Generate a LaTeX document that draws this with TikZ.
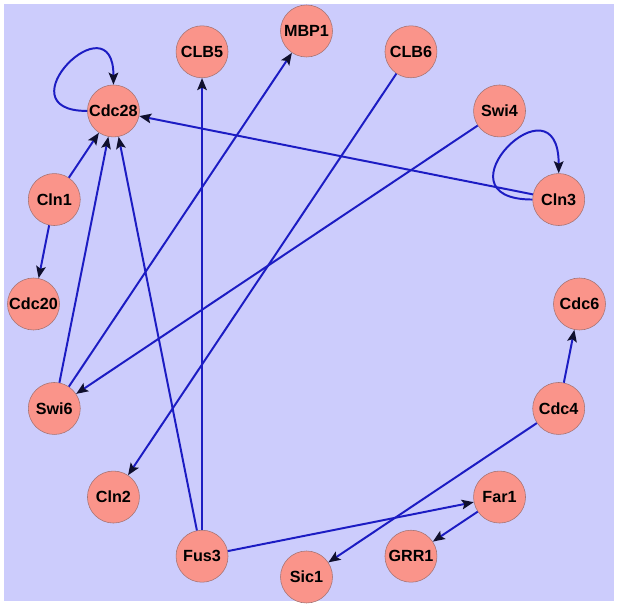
\documentclass[tikz,border=0pt]{standalone}
\usepackage{fontspec}
\setmainfont{Liberation Sans}
\usetikzlibrary{arrows.meta}
\definecolor{bgLavender}{RGB}{204,204,252}
\definecolor{geneFill}{RGB}{250,148,138}
\definecolor{geneLine}{RGB}{165,115,115}
\definecolor{linkBlue}{RGB}{28,28,195}
\definecolor{tipDark}{RGB}{15,15,45}

\begin{document}
\begin{tikzpicture}[
  gene/.style={draw=geneLine, fill=geneFill, circle, minimum size=1.3cm, inner sep=0pt, font=\fontsize{11.5}{13}\selectfont\bfseries},
  link/.style={draw=linkBlue, line width=1.4pt, -{Stealth[length=3mm, width=2.4mm, inset=0.6mm, color=tipDark]}},
  selfloop/.style={link, out=180, in=90, looseness=6}
]
  \useasboundingbox (-7.6625,-7.525) rectangle (7.7875,7.6);
  \fill[bgLavender] (-7.5625,-7.425) rectangle (7.6875,7.5);

  \node[gene] (MBP1) at (90:6.825) {MBP1};
  \node[gene] (CLB6) at (67.5:6.825) {CLB6};
  \node[gene] (Swi4) at (45:6.825) {Swi4};
  \node[gene] (Cln3) at (22.5:6.825) {Cln3};
  \node[gene] (Cdc6) at (0:6.825) {Cdc6};
  \node[gene] (Cdc4) at (-22.5:6.825) {Cdc4};
  \node[gene] (Far1) at (-45:6.825) {Far1};
  \node[gene] (GRR1) at (-67.5:6.825) {GRR1};
  \node[gene] (Sic1) at (-90:6.825) {Sic1};
  \node[gene] (Fus3) at (-112.5:6.825) {Fus3};
  \node[gene] (Cln2) at (-135:6.825) {Cln2};
  \node[gene] (Swi6) at (-157.5:6.825) {Swi6};
  \node[gene] (Cdc20) at (180:6.825) {Cdc20};
  \node[gene] (Cln1) at (157.5:6.825) {Cln1};
  \node[gene] (Cdc28) at (135:6.825) {Cdc28};
  \node[gene] (CLB5) at (112.5:6.825) {CLB5};

  \draw[selfloop] (Cdc28.west) to (Cdc28.north);
  \draw[selfloop, looseness=7] (Cln3.west) to (Cln3.north);
  \draw[link] (Cln3) -- (Cdc28);
  \draw[link] (Cln1) -- (Cdc28);
  \draw[link] (Cln1) -- (Cdc20);
  \draw[link] (Swi6) -- (Cdc28);
  \draw[link] (Swi6) -- (MBP1);
  \draw[link] (Swi4) -- (Swi6);
  \draw[link] (CLB6) -- (Cln2);
  \draw[link] (Fus3) -- (Cdc28);
  \draw[link] (Fus3) -- (CLB5);
  \draw[link] (Fus3) -- (Far1);
  \draw[link] (Far1) -- (GRR1);
  \draw[link] (Cdc4) -- (Sic1);
  \draw[link] (Cdc4) -- (Cdc6);
\end{tikzpicture}
\end{document}
